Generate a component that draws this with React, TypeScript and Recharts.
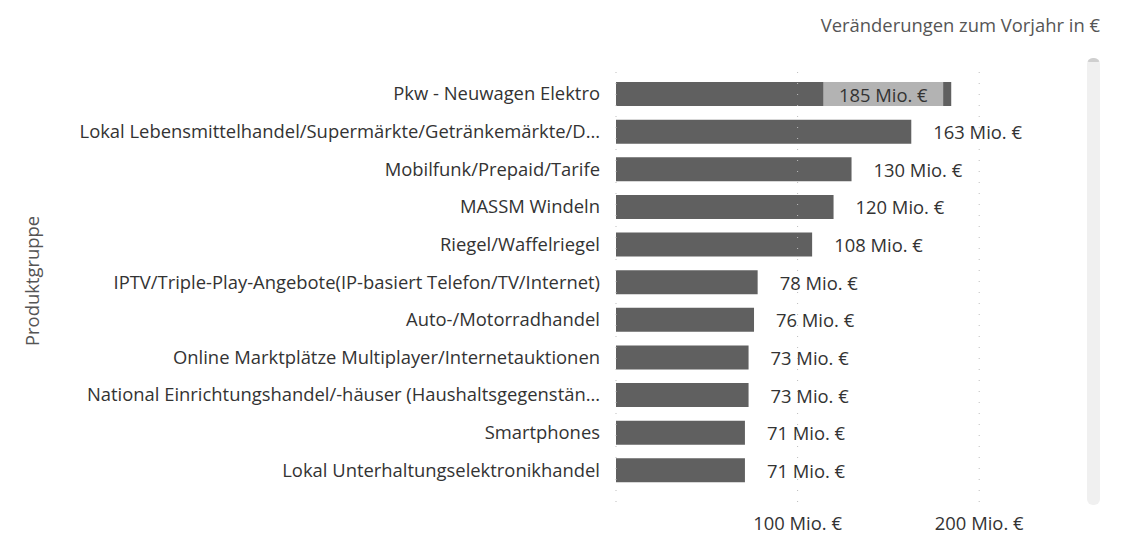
import { BarChart, Bar, XAxis, YAxis, ReferenceLine, LabelList } from "recharts";

const categories = [
  "Pkw - Neuwagen Elektro",
  "Lokal Lebensmittelhandel/Supermärkte/Getränkemärkte/D…",
  "Mobilfunk/Prepaid/Tarife",
  "MASSM Windeln",
  "Riegel/Waffelriegel",
  "IPTV/Triple-Play-Angebote(IP-basiert Telefon/TV/Internet)",
  "Auto-/Motorradhandel",
  "Online Marktplätze Multiplayer/Internetauktionen",
  "National Einrichtungshandel/-häuser (Haushaltsgegenstän…",
  "Smartphones",
  "Lokal Unterhaltungselektronikhandel",
];

// Veränderung zum Vorjahr, Mio. €
const values = [184.6, 162.6, 129.7, 119.8, 108, 78, 76, 73, 73, 71, 71];

const xTicks = [0, 100, 200];

const data = categories.map((name, i) => ({ name, value: values[i] }));

const FONT = "'Segoe UI', 'Open Sans', 'Noto Sans', sans-serif";
const FS = 18.4;
const BAR = "#606060";

const fmt = (v: number) => `${Math.round(v)} Mio. €`;

// labels outside end, except the longest bar: inside with a light box
function ValueLabel(props: any) {
  const { x, y, width, height, value } = props;
  const cy = y + height / 2;
  if (value >= 180) {
    const right = x + width - 8;
    const boxW = 120;
    return (
      <g>
        <rect x={right - boxW} y={y} width={boxW} height={height} fill="#b3b3b3" />
        <text
          x={right - boxW / 2}
          y={cy}
          textAnchor="middle"
          dominantBaseline="central"
          fontSize={FS}
          fill="#333"
          fontFamily={FONT}
        >
          {fmt(value)}
        </text>
      </g>
    );
  }
  return (
    <text
      x={x + width + 22}
      y={cy}
      textAnchor="start"
      dominantBaseline="central"
      fontSize={FS}
      fill="#333"
      fontFamily={FONT}
    >
      {fmt(value)}
    </text>
  );
}

function XTick(props: any) {
  const { x, y, payload } = props;
  if (payload.value === 0) return null;
  return (
    <text
      x={x}
      y={y + 12}
      textAnchor="middle"
      dominantBaseline="central"
      fontSize={FS}
      fill="#333"
      fontFamily={FONT}
    >
      {fmt(payload.value)}
    </text>
  );
}

export default function App() {
  return (
    <div
      style={{
        position: "absolute",
        left: 0,
        top: 0,
        width: 1129,
        height: 536,
        background: "#fff",
        fontFamily: FONT,
      }}
    >
      <div
        style={{
          position: "absolute",
          right: 29,
          top: 12,
          fontSize: FS,
          color: "#555",
          whiteSpace: "nowrap",
          lineHeight: "26px",
        }}
      >
        Veränderungen zum Vorjahr in €
      </div>
      <BarChart
        width={1129}
        height={536}
        data={data}
        layout="vertical"
        margin={{ top: 62, right: 59, bottom: 2, left: 0 }}
      >
        {xTicks.map((t) => (
          <ReferenceLine
            key={t}
            x={t}
            stroke="#bdbdbd"
            strokeDasharray="1 10"
            ifOverflow="extendDomain"
          />
        ))}
        <XAxis
          type="number"
          domain={[0, 250]}
          ticks={xTicks}
          axisLine={false}
          tickLine={false}
          height={32}
          tick={<XTick />}
        />
        <YAxis
          type="category"
          dataKey="name"
          width={616}
          axisLine={false}
          tickLine={false}
          tickMargin={10}
          interval={0}
          padding={{ top: 13, bottom: 13 }}
          tick={{ fontSize: FS, fill: "#333", fontFamily: FONT }}
          label={{
            content: () => (
              <text
                x={0}
                y={0}
                transform="translate(31,281) rotate(-90)"
                textAnchor="middle"
                dominantBaseline="central"
                fontSize={FS}
                fill="#555"
                fontFamily={FONT}
              >
                Produktgruppe
              </text>
            ),
          }}
        />
        <Bar dataKey="value" fill={BAR} barSize={24} isAnimationActive={false}>
          <LabelList dataKey="value" content={<ValueLabel />} />
        </Bar>
      </BarChart>
      <div
        style={{
          position: "absolute",
          left: 1087,
          top: 58,
          width: 13,
          height: 447,
          borderRadius: 6,
          background: "#f0f0f0",
          overflow: "hidden",
        }}
      >
        <div style={{ height: 4, background: "#cfcfcf", borderRadius: 6 }} />
      </div>
    </div>
  );
}
